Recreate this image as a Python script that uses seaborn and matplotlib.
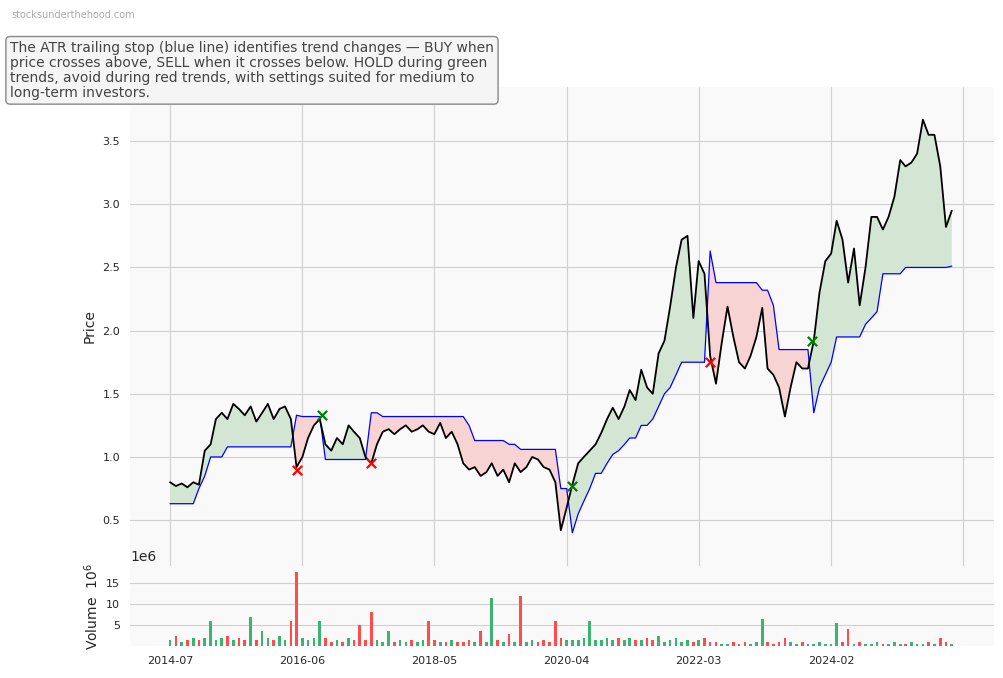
import numpy as np
import pandas as pd
import matplotlib
matplotlib.use("Agg")
import matplotlib.pyplot as plt
import seaborn as sns

# monthly closes, 2014-07 .. 2025-11
price = [0.80, 0.77, 0.79, 0.76, 0.80, 0.78, 1.05, 1.10, 1.30, 1.35, 1.30, 1.42, 1.38, 1.33, 1.40, 1.28, 1.35, 1.42, 1.30, 1.38, 1.40, 1.30,
         0.92, 1.00, 1.15, 1.25, 1.30, 1.10, 1.05, 1.15, 1.10, 1.25, 1.20, 1.15, 1.00, 0.95,
         1.10, 1.20, 1.22, 1.18, 1.22, 1.25, 1.20, 1.22, 1.25, 1.20, 1.18, 1.27, 1.15, 1.20, 1.10,
         0.95, 0.90, 0.92, 0.85, 0.88, 0.95, 0.85, 0.90, 0.80, 0.95, 0.88, 0.92, 1.00, 0.98, 0.92, 0.90, 0.80, 0.42, 0.60,
         0.78, 0.95, 1.00, 1.05, 1.10, 1.19, 1.30, 1.39, 1.30, 1.40, 1.53, 1.45, 1.69, 1.55, 1.50, 1.82, 1.92, 2.19, 2.50, 2.72, 2.75, 2.10, 2.55, 2.45,
         1.80, 1.58, 1.90, 2.19, 1.95, 1.75, 1.70, 1.80, 1.95, 2.18, 1.70, 1.65, 1.55, 1.32, 1.55, 1.75, 1.70, 1.70,
         1.92, 2.30, 2.55, 2.61, 2.87, 2.72, 2.38, 2.65, 2.20, 2.50, 2.90, 2.90, 2.80, 2.90, 3.06, 3.35, 3.30, 3.33, 3.40, 3.67, 3.55, 3.55, 3.30, 2.82, 2.95]

stop = [0.63, 0.63, 0.63, 0.63, 0.63, 0.75, 0.85, 1.00, 1.00, 1.00, 1.08, 1.08, 1.08, 1.08, 1.08, 1.08, 1.08, 1.08, 1.08, 1.08, 1.08, 1.08,
        1.33, 1.32, 1.32, 1.32, 1.32, 0.98, 0.98, 0.98, 0.98, 0.98, 0.98, 0.98, 0.98, 1.35,
        1.35, 1.32, 1.32, 1.32, 1.32, 1.32, 1.32, 1.32, 1.32, 1.32, 1.32, 1.32, 1.32, 1.32, 1.32,
        1.32, 1.25, 1.13, 1.13, 1.13, 1.13, 1.13, 1.13, 1.10, 1.10, 1.06, 1.06, 1.06, 1.06, 1.06, 1.06, 1.06, 0.75, 0.75,
        0.40, 0.55, 0.65, 0.75, 0.87, 0.87, 0.95, 1.02, 1.05, 1.10, 1.15, 1.15, 1.25, 1.25, 1.30, 1.40, 1.50, 1.55, 1.65, 1.75, 1.75, 1.75, 1.75, 1.75,
        2.63, 2.38, 2.38, 2.38, 2.38, 2.38, 2.38, 2.38, 2.38, 2.32, 2.32, 2.20, 1.85, 1.85, 1.85, 1.85, 1.85, 1.85,
        1.35, 1.55, 1.65, 1.75, 1.95, 1.95, 1.95, 1.95, 1.95, 2.05, 2.10, 2.15, 2.45, 2.45, 2.45, 2.45, 2.50, 2.50, 2.50, 2.50, 2.50, 2.50, 2.50, 2.50, 2.51]

# volume in millions
volume = [1.5, 2.5, 1.0, 1.5, 2.0, 1.5, 2.0, 6.0, 1.5, 2.0, 2.5, 1.5, 2.0, 1.5, 7.0, 1.5, 3.5, 2.0, 1.5, 2.5, 1.5, 6.0,
          17.5, 2.0, 1.5, 2.0, 6.0, 2.0, 1.0, 1.5, 1.0, 2.0, 1.5, 5.0, 1.5, 8.0,
          1.5, 1.0, 3.5, 1.0, 1.5, 1.0, 1.5, 1.0, 1.5, 6.0, 1.5, 1.0, 1.0, 1.5, 1.0,
          1.0, 1.5, 1.0, 3.5, 1.0, 11.5, 1.5, 1.0, 3.0, 1.0, 12.0, 1.0, 1.5, 1.0, 1.5, 1.0, 6.0, 2.0, 1.5,
          1.5, 1.5, 2.0, 6.0, 1.5, 1.5, 2.0, 1.5, 2.0, 1.5, 2.0, 1.5, 1.5, 2.0, 1.5, 2.5, 1.0, 1.5, 2.0, 1.0, 1.5, 1.0, 1.5, 2.0,
          1.0, 1.0, 0.5, 0.5, 1.0, 0.5, 1.0, 0.5, 1.0, 6.5, 1.0, 0.5, 1.0, 2.0, 1.0, 0.5, 1.0, 0.5,
          0.5, 1.0, 0.5, 0.5, 5.5, 1.0, 4.0, 0.5, 1.0, 0.5, 0.5, 1.0, 0.5, 0.5, 1.0, 0.5, 0.5, 1.0, 0.5, 0.5, 1.0, 0.5, 2.0, 1.0, 0.5]

sell_dates = ["2016-05-01", "2017-06-01", "2022-05-01"]
sell_prices = [0.90, 0.95, 1.75]
buy_dates = ["2016-09-15", "2020-05-01", "2023-10-25"]
buy_prices = [1.33, 0.77, 1.92]

tick_dates = ["2014-07", "2016-06", "2018-05", "2020-04", "2022-03", "2024-02", "2026-01"]
tick_labels = ["2014-07", "2016-06", "2018-05", "2020-04", "2022-03", "2024-02", ""]

dates = pd.date_range("2014-07-01", periods=len(price), freq="MS")
df = pd.DataFrame({"date": dates, "price": price, "stop": stop, "volume": volume})
df["up"] = df["price"].diff().fillna(0) >= 0

sns.set_style("whitegrid", {"axes.facecolor": "#f9f9f9", "grid.color": "#d0d0d0"})
plt.rcParams["font.family"] = ["DejaVu Sans"]

fig = plt.figure(figsize=(10.04, 6.78), dpi=100)
ax = fig.add_axes([0.1295, 0.165, 0.861, 0.707])
axv = fig.add_axes([0.1295, 0.047, 0.861, 0.118], sharex=ax)

p = df["price"].to_numpy()
s = df["stop"].to_numpy()
ax.fill_between(df["date"], p, s, where=p >= s, interpolate=True, color="#d3e6d3", lw=0)
ax.fill_between(df["date"], p, s, where=p < s, interpolate=True, color="#f8d3d3", lw=0)
sns.lineplot(data=df, x="date", y="stop", ax=ax, color="blue", lw=0.9)
sns.lineplot(data=df, x="date", y="price", ax=ax, color="black", lw=1.3)
ax.scatter(pd.to_datetime(sell_dates), sell_prices, marker="x", color="red", s=45, lw=1.6, zorder=5)
ax.scatter(pd.to_datetime(buy_dates), buy_prices, marker="x", color="green", s=45, lw=1.6, zorder=5)
ax.set_ylabel("Price", fontsize=10)
ax.set_xlabel("")
ax.set_ylim(0.136, 3.93)
ax.set_yticks([0.5, 1.0, 1.5, 2.0, 2.5, 3.0, 3.5])
ax.tick_params(labelsize=8, labelbottom=False)

colors = np.where(df["up"], "#3cb371", "#ff4d4d")
axv.bar(df["date"], df["volume"], width=14, color=colors, lw=0)
axv.set_ylabel("Volume  $10^6$", fontsize=10)
axv.set_ylim(0, 19)
axv.set_yticks([5, 10, 15])
axv.tick_params(labelsize=8)
axv.set_xticks(pd.to_datetime(tick_dates))
axv.set_xticklabels(tick_labels, fontsize=8)
axv.set_xlim(pd.Timestamp("2013-12-01"), pd.Timestamp("2026-06-15"))
axv.grid(axis="x", visible=False)
axv.text(0.0, 1.03, "1e6", transform=axv.transAxes, fontsize=10, va="bottom")
for a in (ax, axv):
    for sp in a.spines.values():
        sp.set_visible(False)

fig.text(0.011, 0.985, "stocksunderthehood.com", fontsize=7, color="#aaaaaa", va="top")
fig.text(0.01, 0.94,
         "The ATR trailing stop (blue line) identifies trend changes \u2014 BUY when\n"
         "price crosses above, SELL when it crosses below. HOLD during green\n"
         "trends, avoid during red trends, with settings suited for medium to\n"
         "long-term investors.",
         fontsize=10, color="#444444", va="top", linespacing=1.1,
         bbox=dict(boxstyle="round,pad=0.3", fc="#f5f5f5", ec="#888888"))

fig.savefig("out.png", dpi=100)
